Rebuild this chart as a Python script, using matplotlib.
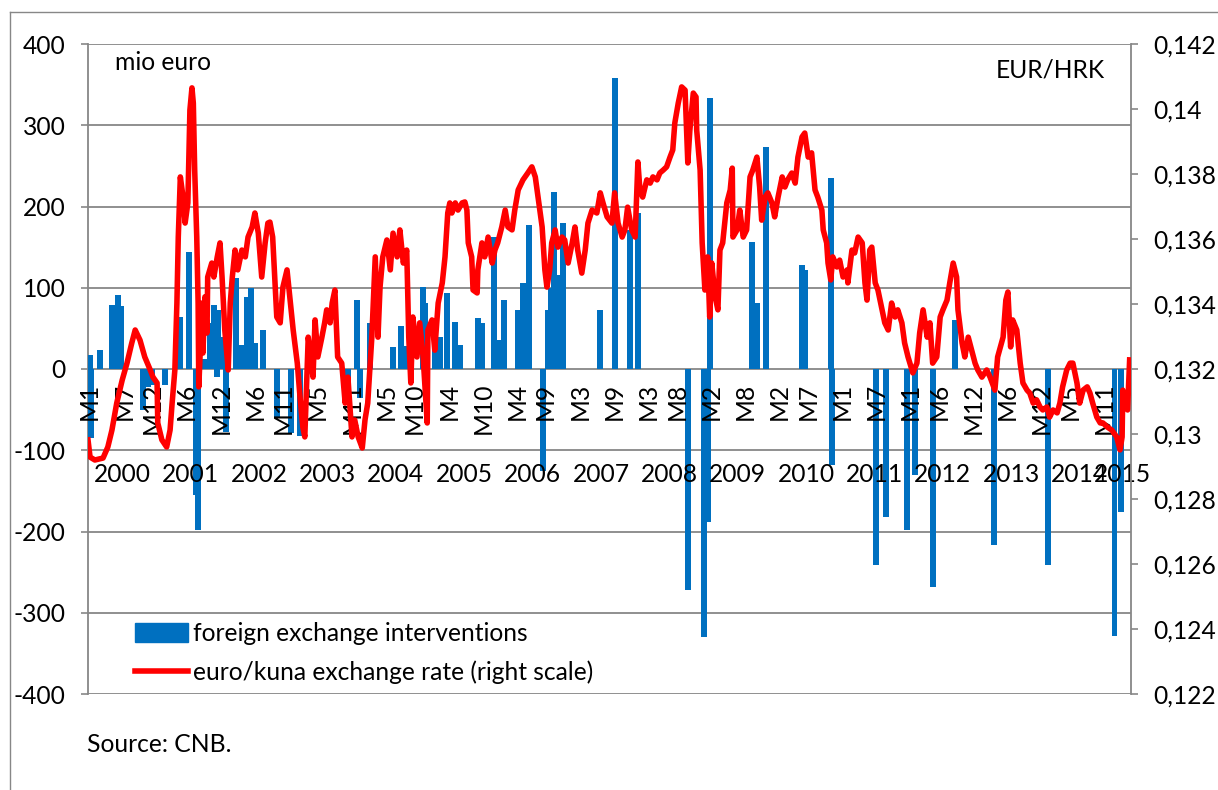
import matplotlib.pyplot as plt
from matplotlib.lines import Line2D
from matplotlib.patches import Patch

# euro/kuna exchange rate (decimal year, rate)
rate_t = [2000.00, 2000.03, 2000.10, 2000.22, 2000.29, 2000.35, 2000.42, 2000.50, 2000.57, 2000.64,
          2000.69, 2000.76, 2000.83, 2000.91, 2000.95, 2001.01, 2001.02, 2001.08, 2001.15, 2001.20,
          2001.23, 2001.27, 2001.30, 2001.32, 2001.35, 2001.39, 2001.42, 2001.46, 2001.49, 2001.52,
          2001.54, 2001.56, 2001.59, 2001.61, 2001.62, 2001.67, 2001.68, 2001.71, 2001.74, 2001.75,
          2001.81, 2001.84, 2001.89, 2001.93, 2001.96, 2002.00, 2002.05, 2002.08, 2002.11, 2002.15,
          2002.19, 2002.25, 2002.30, 2002.34, 2002.40, 2002.44, 2002.49, 2002.54, 2002.59, 2002.63,
          2002.66, 2002.70, 2002.76, 2002.81, 2002.85, 2002.91, 2002.95, 2003.00, 2003.06, 2003.10,
          2003.14, 2003.17, 2003.22, 2003.25, 2003.29, 2003.32, 2003.36, 2003.42, 2003.46, 2003.49,
          2003.54, 2003.57, 2003.61, 2003.65, 2003.71, 2003.76, 2003.80, 2003.86, 2003.90, 2003.95,
          2004.01, 2004.05, 2004.09, 2004.15, 2004.20, 2004.24, 2004.27, 2004.31, 2004.37, 2004.42,
          2004.46, 2004.52, 2004.56, 2004.61, 2004.66, 2004.69, 2004.72, 2004.75, 2004.81, 2004.85,
          2004.90, 2004.96, 2004.97, 2005.03, 2005.07, 2005.12, 2005.18, 2005.22, 2005.26, 2005.29,
          2005.32, 2005.37, 2005.41, 2005.47, 2005.51, 2005.54, 2005.56, 2005.61, 2005.63, 2005.69,
          2005.70, 2005.76, 2005.80, 2005.85, 2005.91, 2005.95, 2005.99, 2006.05, 2006.10, 2006.14,
          2006.20, 2006.24, 2006.29, 2006.36, 2006.43, 2006.49, 2006.54, 2006.58, 2006.64, 2006.68,
          2006.71, 2006.75, 2006.78, 2006.83, 2006.87, 2006.93, 2006.97, 2007.02, 2007.08, 2007.12,
          2007.16, 2007.22, 2007.27, 2007.31, 2007.37, 2007.44, 2007.49, 2007.53, 2007.59, 2007.66,
          2007.70, 2007.75, 2007.81, 2007.85, 2007.89, 2007.95, 2008.00, 2008.04, 2008.07, 2008.11,
          2008.17, 2008.22, 2008.26, 2008.32, 2008.36, 2008.41, 2008.46, 2008.51, 2008.55, 2008.58,
          2008.63, 2008.68, 2008.73, 2008.77, 2008.80, 2008.85, 2008.89, 2008.90, 2008.95, 2008.98,
          2009.02, 2009.06, 2009.09, 2009.12, 2009.17, 2009.21, 2009.24, 2009.28, 2009.34, 2009.39,
          2009.42, 2009.43, 2009.49, 2009.53, 2009.58, 2009.63, 2009.68, 2009.72, 2009.78, 2009.82,
          2009.85, 2009.90, 2009.94, 2010.00, 2010.04, 2010.09, 2010.15, 2010.19, 2010.23, 2010.29,
          2010.34, 2010.38, 2010.44, 2010.48, 2010.53, 2010.58, 2010.63, 2010.67, 2010.73, 2010.75,
          2010.80, 2010.82, 2010.86, 2010.89, 2010.95, 2010.99, 2011.04, 2011.10, 2011.11, 2011.17,
          2011.21, 2011.26, 2011.32, 2011.36, 2011.39, 2011.43, 2011.46, 2011.51, 2011.55, 2011.61,
          2011.65, 2011.70, 2011.75, 2011.80, 2011.84, 2011.90, 2011.94, 2011.99, 2012.06, 2012.12,
          2012.16, 2012.21, 2012.27, 2012.31, 2012.35, 2012.41, 2012.46, 2012.50, 2012.56, 2012.60,
          2012.65, 2012.70, 2012.72, 2012.78, 2012.82, 2012.87, 2012.92, 2012.97, 2013.01, 2013.07,
          2013.14, 2013.19, 2013.26, 2013.30, 2013.38, 2013.42, 2013.45, 2013.49, 2013.52, 2013.58,
          2013.63, 2013.67, 2013.73, 2013.77, 2013.82, 2013.87, 2013.92, 2013.96, 2014.02, 2014.06,
          2014.11, 2014.17, 2014.21, 2014.25, 2014.31, 2014.36, 2014.40, 2014.46, 2014.50, 2014.55,
          2014.61, 2014.65, 2014.69, 2014.75, 2014.80, 2014.84, 2014.90, 2014.97, 2015.04, 2015.09,
          2015.12, 2015.13, 2015.16, 2015.20, 2015.23]
rate_v = [0.12982, 0.12929, 0.12920, 0.12926, 0.12960, 0.13012, 0.13095, 0.13166, 0.13218, 0.13280,
          0.13320, 0.13289, 0.13237, 0.13197, 0.13175, 0.13157, 0.13034, 0.12982, 0.12960, 0.13012,
          0.13095, 0.13197, 0.13403, 0.13606, 0.13791, 0.13729, 0.13649, 0.13711, 0.13997, 0.14065,
          0.14018, 0.13812, 0.13606, 0.13403, 0.13145, 0.13403, 0.13249, 0.13422, 0.13311, 0.13483,
          0.13526, 0.13483, 0.13545, 0.13588, 0.13483, 0.13320, 0.13197, 0.13403, 0.13483, 0.13566,
          0.13505, 0.13566, 0.13545, 0.13606, 0.13637, 0.13680, 0.13618, 0.13483, 0.13588, 0.13649,
          0.13652, 0.13606, 0.13360, 0.13342, 0.13452, 0.13505, 0.13422, 0.13320, 0.13218, 0.13114,
          0.13022, 0.12991, 0.13298, 0.13249, 0.13175, 0.13351, 0.13237, 0.13298, 0.13342, 0.13382,
          0.13342, 0.13403, 0.13443, 0.13237, 0.13218, 0.13095, 0.13175, 0.12991, 0.13043, 0.12991,
          0.12957, 0.13043, 0.13095, 0.13298, 0.13545, 0.13298, 0.13452, 0.13545, 0.13597, 0.13505,
          0.13618, 0.13545, 0.13628, 0.13526, 0.13566, 0.13298, 0.13157, 0.13360, 0.13237, 0.13342,
          0.13237, 0.13034, 0.13320, 0.13351, 0.13258, 0.13403, 0.13465, 0.13545, 0.13680, 0.13711,
          0.13680, 0.13711, 0.13689, 0.13711, 0.13714, 0.13689, 0.13588, 0.13545, 0.13443, 0.13434,
          0.13505, 0.13588, 0.13545, 0.13606, 0.13526, 0.13566, 0.13588, 0.13637, 0.13689, 0.13637,
          0.13628, 0.13689, 0.13751, 0.13782, 0.13803, 0.13822, 0.13791, 0.13729, 0.13637, 0.13505,
          0.13452, 0.13505, 0.13588, 0.13628, 0.13575, 0.13606, 0.13597, 0.13526, 0.13588, 0.13637,
          0.13566, 0.13495, 0.13566, 0.13649, 0.13689, 0.13680, 0.13742, 0.13711, 0.13668, 0.13649,
          0.13742, 0.13649, 0.13606, 0.13628, 0.13698, 0.13628, 0.13606, 0.13837, 0.13751, 0.13729,
          0.13782, 0.13772, 0.13791, 0.13782, 0.13803, 0.13812, 0.13822, 0.13852, 0.13874, 0.13957,
          0.14018, 0.14068, 0.14058, 0.13834, 0.13935, 0.14049, 0.14037, 0.13935, 0.13812, 0.13588,
          0.13443, 0.13545, 0.13360, 0.13526, 0.13422, 0.13382, 0.13566, 0.13588, 0.13711, 0.13751,
          0.13818, 0.13606, 0.13628, 0.13689, 0.13606, 0.13628, 0.13791, 0.13812, 0.13852, 0.13760,
          0.13658, 0.13729, 0.13742, 0.13711, 0.13668, 0.13729, 0.13791, 0.13760, 0.13782, 0.13803,
          0.13772, 0.13852, 0.13914, 0.13926, 0.13852, 0.13865, 0.13751, 0.13729, 0.13689, 0.13628,
          0.13588, 0.13526, 0.13474, 0.13545, 0.13514, 0.13535, 0.13483, 0.13505, 0.13465, 0.13566,
          0.13557, 0.13606, 0.13588, 0.13465, 0.13412, 0.13566, 0.13575, 0.13465, 0.13443, 0.13382,
          0.13342, 0.13320, 0.13403, 0.13360, 0.13382, 0.13342, 0.13280, 0.13237, 0.13188, 0.13218,
          0.13311, 0.13382, 0.13298, 0.13342, 0.13218, 0.13237, 0.13360, 0.13382, 0.13412, 0.13465,
          0.13526, 0.13483, 0.13382, 0.13280, 0.13237, 0.13298, 0.13258, 0.13218, 0.13197, 0.13175,
          0.13197, 0.13175, 0.13135, 0.13237, 0.13298, 0.13412, 0.13437, 0.13268, 0.13351, 0.13320,
          0.13218, 0.13157, 0.13135, 0.13126, 0.13095, 0.13105, 0.13083, 0.13074, 0.13083, 0.13052,
          0.13074, 0.13065, 0.13095, 0.13145, 0.13197, 0.13218, 0.13218, 0.13157, 0.13095, 0.13135,
          0.13145, 0.13126, 0.13095, 0.13052, 0.13034, 0.13034, 0.13022, 0.13012, 0.12991, 0.12951,
          0.12991, 0.13135, 0.13095, 0.13074, 0.13228]

# foreign exchange interventions, mio euro (decimal year, amount)
int_t = [2000.03, 2000.04, 2000.18, 2000.35, 2000.39, 2000.44, 2000.48, 2000.80, 2000.88, 2000.94,
         2001.13, 2001.35, 2001.48, 2001.58, 2001.61, 2001.70, 2001.78, 2001.84, 2001.89, 2001.90,
         2001.96, 2002.02, 2002.16, 2002.25, 2002.32, 2002.38, 2002.44, 2002.56, 2002.76, 2002.97,
         2003.10, 2003.80, 2003.93, 2003.98, 2004.12, 2004.46, 2004.58, 2004.66, 2004.90, 2004.93,
         2005.07, 2005.15, 2005.25, 2005.37, 2005.44, 2005.70, 2005.76, 2005.94, 2006.02, 2006.08,
         2006.29, 2006.36, 2006.39, 2006.45, 2006.65, 2006.73, 2006.77, 2006.81, 2006.86, 2006.89,
         2006.94, 2007.49, 2007.70, 2007.92, 2008.04, 2008.77, 2009.01, 2009.07, 2009.10, 2009.71,
         2009.78, 2009.91, 2010.44, 2010.48, 2010.86, 2010.88, 2011.52, 2011.67, 2011.97, 2012.09,
         2012.35, 2012.68, 2013.25, 2014.04, 2015.01, 2015.10]
int_v = [17, -85, 24, 79, 73, 91, 78, -50, -22, -20,
         -20, 64, 144, -155, -198, 12, 57, 79, -10, 73,
         40, -78, 112, 30, 89, 100, 32, 48, -60, -79,
         -83, -26, 85, -36, 57, 27, 53, 28, 101, 81,
         52, 40, 94, 58, 30, 63, 57, 163, 36, 85,
         73, 106, 65, 177, -125, 73, 100, 218, 113, 116,
         180, 73, 358, 171, 192, -272, -330, -188, 333, 156,
         81, 273, 128, 122, 235, -118, -241, -182, -198, -130,
         -268, 60, -217, -241, -329, -176]

# category axis labels
tick_years = [2000, 2000, 2000, 2001, 2001, 2002, 2002, 2003, 2003, 2004, 2004, 2005, 2005, 2006, 2006, 2007,
              2007, 2008, 2008, 2009, 2009, 2010, 2010, 2011, 2011, 2012, 2012, 2012, 2013, 2013, 2014, 2014]
tick_months = [1, 7, 12, 6, 12, 6, 11, 5, 11, 5, 10, 4, 10, 4, 9, 3,
               9, 3, 8, 2, 8, 2, 7, 1, 7, 1, 6, 12, 6, 12, 5, 11]
years = list(range(2000, 2016))

plt.rcParams['font.family'] = ['Lato', 'DejaVu Sans']
plt.rcParams['axes.unicode_minus'] = False
fs = 17.7
gray = '#878787'
blue = '#0070C0'

W, H = 1218, 790
fig = plt.figure(figsize=(W / 100, H / 100), dpi=100)
ax = fig.add_axes([88 / W, 1 - 694 / H, (1131 - 88) / W, 650 / H])
ax2 = ax.twinx()

ax.bar(int_t, int_v, width=0.085, color=blue, zorder=3)
ax.set_xlim(2000, 2015.25)
ax.set_ylim(-400, 400)
ax.set_yticks(range(-400, 401, 100))
ax.set_xticks([])
ax.yaxis.grid(True, color=gray, lw=1.3)
ax.set_axisbelow(True)
ax.tick_params(axis='y', length=5, width=1.2, color=gray, labelsize=fs, pad=11)
for s in ['top', 'bottom', 'right']:
    ax.spines[s].set_visible(False)
ax.spines['left'].set_color(gray)
ax.spines['left'].set_linewidth(1.3)

ax2.plot(rate_t, rate_v, color='#FF0000', lw=4, solid_joinstyle='round', zorder=4)
ax2.set_ylim(0.122, 0.142)
rticks = [round(0.122 + 0.002 * i, 3) for i in range(11)]
ax2.set_yticks(rticks)
ax2.set_yticklabels([f"{v:g}".replace('.', ',') for v in rticks])
ax2.tick_params(axis='y', length=5, width=1.2, color=gray, labelsize=fs, pad=11)
for s in ['top', 'bottom', 'left']:
    ax2.spines[s].set_visible(False)
ax2.spines['right'].set_color(gray)
ax2.spines['right'].set_linewidth(1.3)

# month labels hang under the zero line, years below them
for y, m in zip(tick_years, tick_months):
    ax.text(y + (m - 0.7) / 12, -17, f"M{m}", rotation=90, ha='center', va='top', fontsize=fs)
for y in years:
    xc = y + 0.5 if y < 2015 else (2015 + 2015.25) / 2
    ax.text(xc, -130, str(y), ha='center', va='center', fontsize=fs)

fig.text(115 / W, 1 - 63 / H, 'mio euro', va='center', fontsize=fs)
fig.text(1105 / W, 1 - 70 / H, 'EUR/HRK', ha='right', va='center', fontsize=fs)
fig.text(87 / W, 1 - 745 / H, 'Source: CNB.', va='center', fontsize=fs)

handles = [Patch(color=blue), Line2D([], [], color='#FF0000', lw=4)]
fig.legend(handles, ['foreign exchange interventions', 'euro/kuna exchange rate (right scale)'],
           loc='upper left', bbox_to_anchor=(135 / W, 1 - 622 / H), frameon=False, fontsize=fs,
           borderpad=0, borderaxespad=0, handlelength=2.15, handleheight=0.8,
           handletextpad=0.2, labelspacing=0.62)

# chart area border
fig.add_artist(Line2D([10 / W, 1], [1 - 12 / H] * 2, color=gray, lw=1))
fig.add_artist(Line2D([10 / W] * 2, [0, 1 - 12 / H], color=gray, lw=1))

fig.savefig('out.png', dpi=100)
